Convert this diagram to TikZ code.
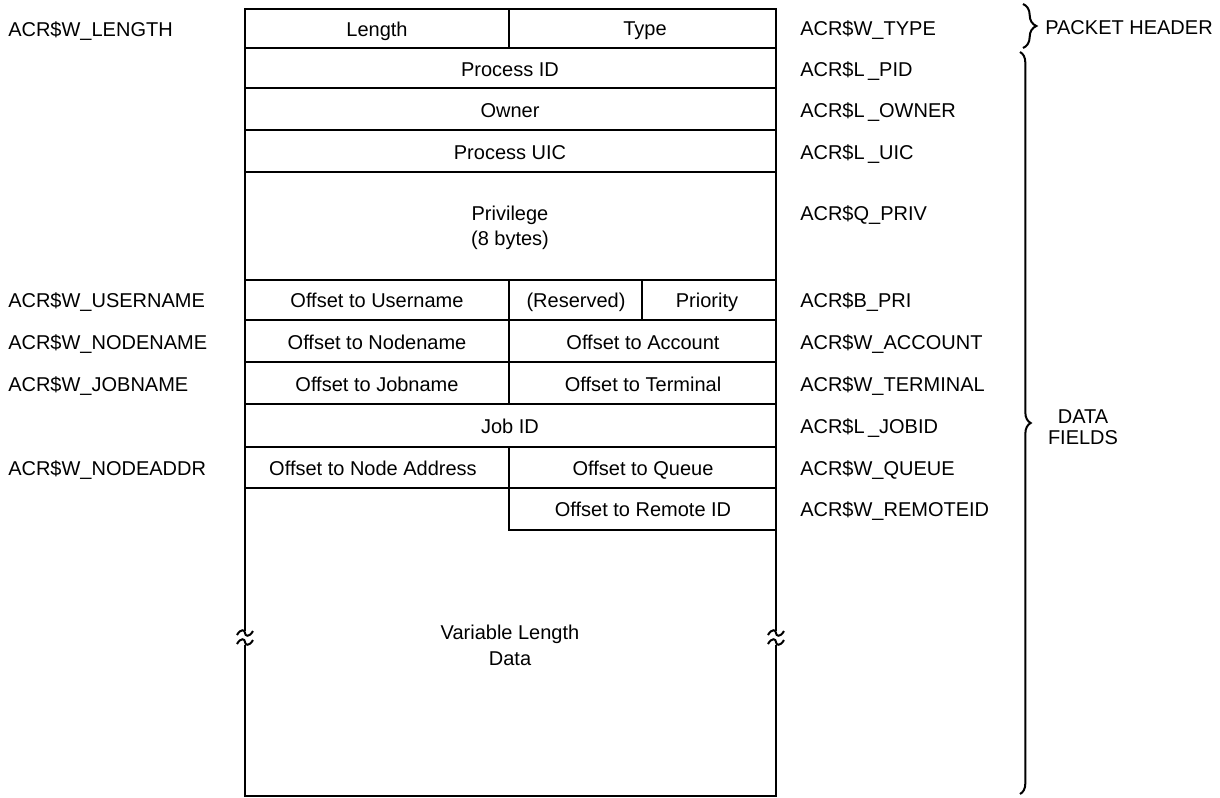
\documentclass[tikz,border=0pt]{standalone}
\usepackage{fontspec}
\setmainfont{Liberation Sans}
\usetikzlibrary{decorations.pathreplacing}
\begin{document}
\begin{tikzpicture}[x=0.75pt,y=-0.75pt,
  frame/.style={line width=1.7pt,line cap=rect},
  txt/.style={inner sep=0pt,font=\fontsize{15}{19}\selectfont,text height=10.8pt,text depth=0pt},
  lbl/.style={txt,anchor=west},
  brc/.style={line width=1.5pt,decorate},
  tilde/.style={line width=1.5pt}]
\useasboundingbox (0,0) rectangle (1220,797);
% frame corners
\coordinate (tl) at (245,9);
\coordinate (tr) at (776,9);
\coordinate (bl) at (245,796);
\coordinate (br) at (776,796);
\coordinate (lgt) at (245,630);
\coordinate (lgb) at (245,646);
\coordinate (rgt) at (776,630);
\coordinate (rgb) at (776,646);
\draw[frame] (lgt) -- (tl) -- (tr) -- (rgt);
\draw[frame] (lgb) -- (bl) -- (br) -- (rgb);
% break marks
\foreach \n/\xx in {L/245,R/776}{
  \foreach \yy in {633,642}{
    \draw[tilde] (\xx-8,\yy+2) .. controls (\xx-4,\yy-5) and (\xx,\yy-3) .. (\xx,\yy)
       .. controls (\xx,\yy+3) and (\xx+4,\yy+5) .. (\xx+8,\yy-2);
  }
}
% horizontal rules
\foreach \yy in {48,88,130,172,280,320,362,404,447,488}{
  \draw[frame] (245,\yy) -- (776,\yy);
}
\draw[frame] (509,530) -- (776,530);
% vertical rules
\draw[frame] (509,9) -- (509,48);
\draw[frame] (509,280) -- (509,404);
\draw[frame] (509,447) -- (509,530);
\draw[frame] (642,280) -- (642,320);
% cell texts
\node[txt] (len) at (377,29) {Length};
\node[txt] (typ) at (645,28) {Type};
\node[txt] (pid) at (510,69) {Process ID};
\node[txt] (own) at (510,110) {Owner};
\node[txt] (uic) at (510,152) {Process UIC};
\node[txt] (priv) at (510,213) {Privilege};
\node[txt] (privb) at (510,238) {(8 bytes)};
\node[txt] (usr) at (377,300) {Offset to Username};
\node[txt] (res) at (576,300) {(Reserved)};
\node[txt] (pri) at (707,300) {Priority};
\node[txt] (nod) at (377,342) {Offset to Nodename};
\node[txt] (acc) at (643,342) {Offset to Account};
\node[txt] (job) at (377,384) {Offset to Jobname};
\node[txt] (trm) at (643,384) {Offset to Terminal};
\node[txt] (jid) at (510,426) {Job ID};
\node[txt] (nda) at (373,468) {Offset to Node Address};
\node[txt] (que) at (643,468) {Offset to Queue};
\node[txt] (rid) at (643,509) {Offset to Remote ID};
\node[txt] (var) at (510,632) {Variable Length};
\node[txt] (varb) at (510,658) {Data};
% left labels
\node[lbl] (lLen) at (8,29) {ACR\$W\_LENGTH};
\node[lbl] (lUsr) at (8,300) {ACR\$W\_USERNAME};
\node[lbl] (lNod) at (8,342) {ACR\$W\_NODENAME};
\node[lbl] (lJob) at (8,384) {ACR\$W\_JOBNAME};
\node[lbl] (lNda) at (8,468) {ACR\$W\_NODEADDR};
% right labels
\node[lbl] (rTyp) at (800,28) {ACR\$W\_TYPE};
\node[lbl] (rPid) at (800,69) {ACR\$L\,\_PID};
\node[lbl] (rOwn) at (800,110) {ACR\$L\,\_OWNER};
\node[lbl] (rUic) at (800,152) {ACR\$L\,\_UIC};
\node[lbl] (rPrv) at (800,213) {ACR\$Q\_PRIV};
\node[lbl] (rPri) at (800,300) {ACR\$B\_PRI};
\node[lbl] (rAcc) at (800,342) {ACR\$W\_ACCOUNT};
\node[lbl] (rTrm) at (800,384) {ACR\$W\_TERMINAL};
\node[lbl] (rJid) at (800,426) {ACR\$L\,\_JOBID};
\node[lbl] (rQue) at (800,468) {ACR\$W\_QUEUE};
\node[lbl] (rRid) at (800,509) {ACR\$W\_REMOTEID};
% braces
\coordinate (hb1) at (1023,4);
\coordinate (hb2) at (1023,48);
\coordinate (db1) at (1020,52);
\coordinate (db2) at (1020,794);
\draw[brc,decoration={brace,amplitude=10pt}] (hb1) -- (hb2);
\draw[brc,decoration={brace,amplitude=8pt}] (db1) -- (db2);
\node[lbl] (ph) at (1045,27) {PACKET HEADER};
\node[txt] (df) at (1083,416) {DATA};
\node[txt] (dfb) at (1083,437) {FIELDS};
\end{tikzpicture}
\end{document}
